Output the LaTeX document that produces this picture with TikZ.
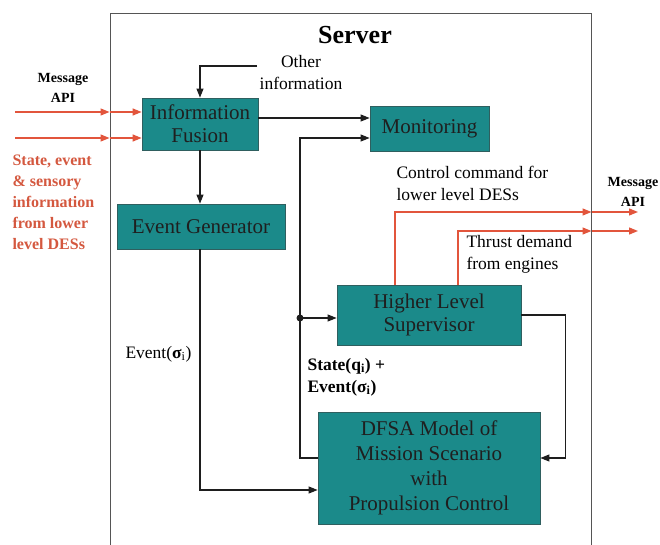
\documentclass[tikz,border=0pt]{standalone}
\usepackage{fontspec}
\setmainfont{Liberation Serif}
\usetikzlibrary{arrows.meta, positioning, calc}
\definecolor{cteal}{HTML}{1B8A8A}
\definecolor{cedge}{HTML}{2F5F5F}
\definecolor{cred}{HTML}{E2553C}
\definecolor{credtext}{HTML}{D4583F}
\definecolor{cline}{HTML}{1E1E1E}
\definecolor{cframe}{HTML}{555555}
\tikzset{
  block/.style={draw=cedge, fill=cteal, line width=0.8pt, align=center, inner sep=0pt,
    font=\fontsize{21}{23}\selectfont, text=black!88},
  link/.style={draw=cline, line width=1.1pt},
  arrow/.style={link, -{Triangle[length=9pt, width=7pt]}},
  redarrow/.style={draw=cred, line width=1.3pt, -{Triangle[length=9pt, width=7pt]}},
  label/.style={font=\fontsize{17.5}{22}\selectfont, align=left},
  api/.style={font=\bfseries\fontsize{14}{20}\selectfont, align=center},
}
\begin{document}
\begin{tikzpicture}[x=1pt, y=-1pt]
  \useasboundingbox (0,0) rectangle (660,545);
  \clip (0,0) rectangle (660,545);
  % server frame
  \node[draw=cframe, line width=1pt, minimum width=481pt, minimum height=586pt, inner sep=0pt] (srv) at (350.5,307) {};
  \node[font=\bfseries\fontsize{26}{28}\selectfont] (title) at (355,35) {Server};
  % blocks
  \node[block, minimum width=116pt, minimum height=52pt] (fusion) at (200,124) {Information\\Fusion};
  \node[block, minimum width=168pt, minimum height=45pt] (evgen) at (201,226.5) {Event Generator};
  \node[block, minimum width=119pt, minimum height=45pt] (monit) at (429.5,128.5) {Monitoring};
  \node[block, minimum width=184pt, minimum height=60pt] (super) at (429,315) {Higher Level\\Supervisor};
  \node[block, minimum width=222pt, minimum height=112pt, font=\fontsize{21}{25}\selectfont] (dfsa) at (429,468) {DFSA Model of\\Mission Scenario\\with\\Propulsion Control};
  % texts
  \node[label, align=center] (other) at (301,73) {Other\\information};
  \node[api] (apiin) at (63,88) {Message\\API};
  \node[api] (apiout) at (633,192) {Message\\API};
  \node[label, anchor=west, text=credtext, font=\bfseries\fontsize{16}{21}\selectfont] (lower) at (9,202) {State, event\\\& sensory\\information\\from lower\\level DESs};
  \node[label, anchor=west] (ctrl) at (393,183) {Control command for\\lower level DESs};
  \node[label, anchor=west] (thrust) at (463,254) {Thrust demand\\from engines};
  \node[label, anchor=west] (evlab) at (122,354) {Event(\textbf{σ}\textsubscript{i})};
  \node[label, anchor=west, font=\bfseries\fontsize{17.5}{22}\selectfont] (stlab) at (304,377) {State(q\textsubscript{i}) +\\Event(σ\textsubscript{i})};
  % coordinates
  \coordinate (oi) at (257,66);
  \coordinate (in1) at (15,112);
  \coordinate (in2) at (15,138);
  \coordinate (out1) at (638,212);
  \coordinate (out2) at (638,231);
  \coordinate (jn) at (300,318);
  % inputs
  \draw[arrow] (oi) -| (fusion.north);
  \foreach \c in {in1,in2} {
    \draw[redarrow] (\c) -- (\c -| srv.west);
    \draw[redarrow] (\c -| srv.west) -- (\c -| fusion.west);
  }
  % internal flow
  \draw[arrow] ([yshift=6pt]fusion.east) -- ([yshift=6pt]fusion.east -| monit.west);
  \draw[arrow] (fusion.south) -- (fusion.south |- evgen.north);
  \draw[arrow] (evgen.south -| fusion.south) |- ([yshift=-22pt]dfsa.west);
  \draw[link] ([yshift=10pt]dfsa.west) -| (jn);
  \draw[arrow] (jn) -- (jn -| super.west);
  \draw[arrow] (jn) |- ([yshift=-9.5pt]monit.west);
  \fill[cline] (jn) circle (3.5pt);
  \draw[arrow] (super.east) -- ++(44,0) |- ([yshift=10pt]dfsa.east);
  % outputs
  \draw[redarrow] ([xshift=-34pt]super.north) |- (out1 -| srv.east);
  \draw[redarrow] (out1 -| srv.east) -- (out1);
  \draw[redarrow] ([xshift=29pt]super.north) |- (out2 -| srv.east);
  \draw[redarrow] (out2 -| srv.east) -- (out2);
\end{tikzpicture}
\end{document}
